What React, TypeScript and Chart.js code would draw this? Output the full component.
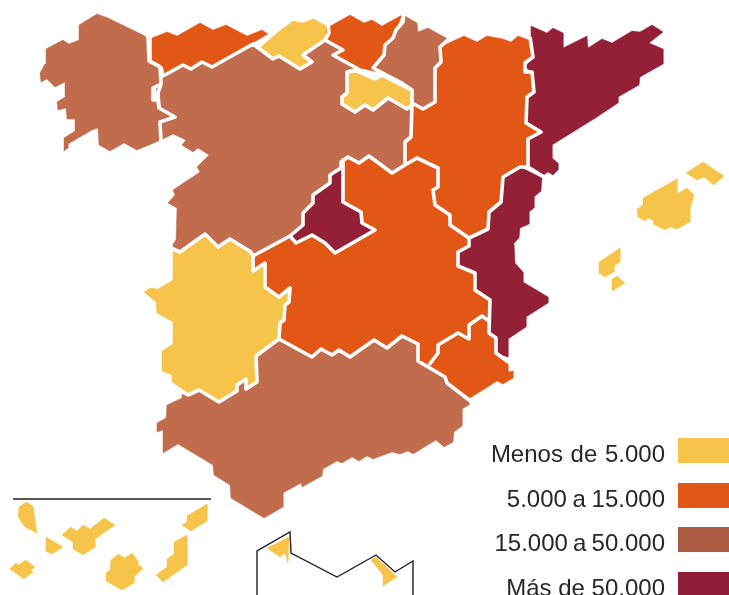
import React, { useEffect, useRef } from "react";
import { Chart, registerables } from "chart.js";

Chart.register(...registerables);

type Pt = [number, number];

const legendLabels = ["Menos de 5.000", "5.000 a 15.000", "15.000 a 50.000", "Más de 50.000"];
const legendColors = ["#F6C44A", "#E25716", "#AB5B42", "#8F1D38"];

const mapYellow = "#F6C44A";
const mapOrange = "#E25716";
const mapBrown = "#C06C4D";
const mapDark = "#932036";

const galicia: Pt[] = [[97,14],[108,18],[145,36],[148,37],[149,61],[160,67],[161,84],[153,88],[153,100],[158,100],[159,108],[175,117],[160,122],[161,140],[137,150],[124,143],[110,151],[99,145],[98,128],[92,130],[68,144],[68,148],[64,151],[64,138],[75,131],[75,119],[67,119],[66,108],[58,110],[57,102],[65,97],[65,82],[55,87],[47,79],[41,82],[40,73],[45,64],[46,49],[63,40],[69,44],[79,40],[79,25]];
const asturias: Pt[] = [[152,38],[167,32],[177,36],[200,23],[213,30],[226,25],[247,36],[262,30],[271,36],[253,45],[212,67],[202,62],[191,69],[183,65],[163,76],[161,65],[152,60]];
const cantabria: Pt[] = [[260,48],[277,33],[293,21],[302,23],[314,19],[328,27],[329,33],[325,40],[303,55],[312,62],[300,69],[279,56],[273,59]];
const castillaLeon: Pt[] = [[163,76],[183,65],[191,69],[202,62],[212,67],[253,44],[273,59],[279,56],[300,69],[312,62],[303,55],[325,40],[343,50],[333,55],[360,70],[347,72],[347,93],[342,97],[342,104],[355,112],[365,105],[373,110],[388,98],[407,109],[412,105],[411,137],[405,142],[405,165],[392,173],[369,156],[359,163],[348,157],[341,162],[341,168],[330,175],[330,183],[313,195],[313,203],[303,213],[303,225],[290,236],[253,256],[251,252],[230,239],[218,247],[205,234],[180,252],[173,248],[173,244],[176,240],[177,208],[168,203],[175,195],[173,190],[200,172],[197,167],[209,155],[198,148],[193,152],[182,145],[186,140],[173,134],[161,140],[160,122],[175,117],[159,108],[158,93],[156,89],[161,84]];
const paisVasco: Pt[] = [[327,28],[350,15],[364,23],[372,20],[382,26],[402,15],[396,30],[393,38],[385,45],[384,55],[373,68],[377,74],[360,70],[333,55],[343,50],[326,40]];
const navarra: Pt[] = [[405,16],[417,23],[418,32],[428,28],[448,39],[440,47],[441,62],[435,68],[435,102],[423,109],[412,103],[412,90],[400,82],[373,68],[384,55],[385,45],[393,38],[396,30],[403,22]];
const rioja: Pt[] = [[347,72],[355,70],[375,79],[382,75],[413,91],[412,105],[407,109],[388,98],[373,110],[365,105],[355,112],[342,104],[342,97],[347,93]];
const aragon: Pt[] = [[440,47],[464,36],[477,42],[487,36],[503,39],[511,42],[518,36],[531,41],[533,57],[525,63],[525,72],[532,72],[534,92],[527,97],[526,123],[541,132],[528,139],[528,167],[520,167],[503,177],[501,202],[489,212],[488,229],[469,238],[450,225],[450,215],[435,205],[433,190],[438,187],[438,168],[417,158],[405,165],[405,142],[411,137],[412,105],[423,109],[435,102],[435,68],[441,62]];
const cataluna: Pt[] = [[531,26],[547,33],[553,28],[563,33],[563,48],[587,36],[588,48],[602,39],[612,43],[632,31],[640,32],[652,25],[663,32],[649,43],[663,49],[663,64],[640,77],[639,85],[618,97],[618,103],[597,117],[552,145],[552,158],[558,163],[558,170],[553,175],[548,172],[542,176],[528,167],[528,139],[541,132],[526,123],[527,97],[534,92],[532,72],[525,67],[533,57],[531,41]];
const valencia: Pt[] = [[520,167],[542,178],[541,191],[534,197],[534,208],[529,212],[529,224],[520,228],[519,238],[514,243],[515,263],[523,272],[523,282],[548,297],[548,303],[526,317],[526,327],[508,339],[508,357],[496,353],[496,338],[489,333],[490,300],[475,290],[475,273],[458,266],[458,252],[469,246],[469,238],[488,229],[489,212],[501,202],[503,177]];
const murcia: Pt[] = [[482,316],[489,321],[489,333],[496,338],[496,353],[508,363],[508,372],[513,371],[513,378],[503,384],[497,381],[470,398],[447,383],[445,377],[418,361],[429,365],[438,353],[438,345],[458,333],[469,339],[469,325]];
const castillaMancha: Pt[] = [[405,165],[417,158],[438,168],[438,187],[433,190],[435,205],[450,215],[450,225],[469,238],[469,246],[458,252],[458,266],[475,273],[475,290],[490,300],[489,321],[482,316],[469,325],[469,339],[458,333],[438,345],[438,353],[429,365],[418,361],[418,344],[402,336],[387,348],[374,340],[350,357],[339,350],[332,355],[321,349],[312,357],[279,339],[280,323],[284,320],[285,305],[289,302],[290,288],[279,297],[265,287],[265,263],[253,271],[253,256],[290,236],[296,243],[312,235],[325,243],[335,253],[375,230],[362,223],[361,212],[343,202],[343,160],[348,157],[359,163],[369,156],[392,173]];
const madrid: Pt[] = [[343,165],[341,168],[330,175],[330,183],[313,195],[313,203],[303,213],[303,225],[290,236],[296,243],[312,235],[325,243],[335,253],[375,230],[362,223],[361,212],[343,202]];
const extremadura: Pt[] = [[173,251],[180,252],[205,234],[218,247],[230,239],[251,252],[253,256],[253,271],[265,263],[265,287],[279,297],[290,288],[289,302],[285,305],[284,320],[280,323],[279,339],[256,356],[257,382],[246,389],[246,379],[237,385],[237,391],[219,402],[199,390],[188,393],[172,382],[172,375],[162,371],[162,351],[173,344],[173,322],[157,313],[156,302],[144,292],[150,288],[158,289],[173,280]];
const andalucia: Pt[] = [[279,339],[312,357],[321,349],[332,355],[339,350],[350,357],[374,340],[387,348],[402,336],[418,344],[418,361],[445,377],[447,383],[470,401],[469,405],[462,409],[462,426],[454,432],[453,442],[444,447],[436,440],[413,454],[408,451],[400,454],[392,452],[373,459],[367,456],[359,461],[352,457],[342,463],[337,461],[323,469],[322,476],[302,487],[301,483],[283,493],[283,507],[264,518],[231,498],[230,485],[214,475],[213,465],[178,444],[163,453],[163,430],[157,432],[157,423],[166,418],[167,405],[182,398],[182,392],[188,395],[199,390],[219,402],[237,391],[237,385],[246,379],[246,389],[257,382],[256,356]];

const borderNorthWest: Pt[] = [[146,34],[148,37],[149,61],[160,67],[161,84],[153,88],[153,100],[158,100],[159,108],[175,117],[160,122],[161,142]];
const borderGaliciaInner: Pt[] = [[161,84],[158,93],[159,108]];
const borderCantabrian: Pt[] = [[161,67],[163,76],[183,65],[191,69],[202,62],[212,67],[253,44],[273,59],[279,56],[300,69],[312,62],[303,55],[325,40],[343,50],[333,55],[360,70],[377,74]];
const borderAsturiasTip: Pt[] = [[253,45],[275,32]];
const borderCantabriaEast: Pt[] = [[325,40],[329,33],[328,24]];
const borderVascoNavarra: Pt[] = [[404,11],[403,22],[396,30],[393,38],[385,45],[384,55],[373,68],[400,82],[412,90],[412,105]];
const borderRiojaNorth: Pt[] = [[347,72],[355,70],[375,79],[382,75],[413,91]];
const borderCastillaEastSouth: Pt[] = [[360,70],[347,72],[347,93],[342,97],[342,104],[355,112],[365,105],[373,110],[388,98],[407,109],[412,105],[411,137],[405,142],[405,165],[392,173],[369,156],[359,163],[348,157],[341,162],[341,168],[330,175],[330,183],[313,195],[313,203],[303,213],[303,225],[290,236],[253,256],[251,252],[230,239],[218,247],[205,234],[180,252],[171,248]];
const borderNavarraAragon: Pt[] = [[451,37],[440,47],[441,62],[435,68],[435,102],[423,109],[412,103]];
const borderAragonCataluna: Pt[] = [[530,37],[533,57],[525,63],[525,72],[532,72],[534,92],[527,97],[526,123],[541,132],[528,139],[528,167],[544,177]];
const borderValenciaWest: Pt[] = [[528,167],[520,167],[503,177],[501,202],[489,212],[488,229],[469,238],[469,246],[458,252],[458,266],[475,273],[475,290],[490,300],[489,333],[496,338],[496,353],[511,364]];
const borderAragonMancha: Pt[] = [[469,238],[450,225],[450,215],[435,205],[433,190],[438,187],[438,168],[417,158],[405,165]];
const borderManchaMurcia: Pt[] = [[489,321],[482,316],[469,325],[469,339],[458,333],[438,345],[438,353],[429,365]];
const borderAndalucia: Pt[] = [[473,403],[447,383],[445,377],[418,361],[418,344],[402,336],[387,348],[374,340],[350,357],[339,350],[332,355],[321,349],[312,357],[279,339],[256,356],[257,382],[246,389],[246,379],[237,385],[237,391],[219,402],[199,390],[188,395],[180,391]];
const borderManchaExtremadura: Pt[] = [[279,339],[280,323],[284,320],[285,305],[289,302],[290,288],[279,297],[265,287],[265,263],[253,271],[253,256]];
const borderMadrid: Pt[] = [[343,160],[343,202],[361,212],[362,223],[375,230],[335,253],[325,243],[312,235],[296,243],[290,236]];

const menorca: Pt[] = [[686,173],[703,162],[724,176],[714,185],[704,177],[697,180]];
const mallorca: Pt[] = [[643,198],[677,179],[677,194],[687,188],[694,195],[690,210],[690,222],[677,229],[670,227],[665,230],[653,224],[654,221],[648,218],[645,221],[638,217],[637,209],[643,205]];
const ibiza: Pt[] = [[599,262],[620,248],[620,262],[614,266],[614,272],[605,277],[599,273]];
const formentera: Pt[] = [[612,279],[617,276],[625,283],[612,291]];
const laPalma: Pt[] = [[26,502],[33,506],[37,533],[25,527],[18,517],[19,507]];
const gomera: Pt[] = [[46,537],[63,547],[52,554],[46,551]];
const tenerife: Pt[] = [[62,535],[71,527],[77,531],[83,525],[90,529],[104,518],[115,525],[95,539],[95,547],[83,555],[73,549],[73,542]];
const hierro: Pt[] = [[10,569],[16,563],[19,565],[26,560],[35,567],[31,570],[33,572],[24,579]];
const granCanaria: Pt[] = [[106,573],[110,570],[111,560],[118,554],[125,558],[132,553],[138,561],[138,565],[143,568],[134,577],[134,583],[122,590],[106,581]];
const fuerteventura: Pt[] = [[156,575],[167,567],[167,559],[174,554],[174,542],[187,535],[187,565],[163,582]];
const lanzarote: Pt[] = [[182,525],[187,522],[187,516],[207,504],[207,521],[191,531]];
const ceuta: Pt[] = [[267,548],[289,537],[288,563],[285,553],[280,557]];
const melilla: Pt[] = [[371,560],[376,557],[397,577],[383,586],[383,575]];

const canaryRule: Pt[] = [[13,499],[211,499]];
const ceutaMelillaFrame: Pt[] = [[257,595],[257,551],[290,532],[291,553],[337,577],[376,555],[395,572],[413,561],[413,595]];

const mainland: [Pt[], string][] = [
  [galicia, mapBrown], [castillaLeon, mapBrown], [navarra, mapBrown], [andalucia, mapBrown],
  [asturias, mapOrange], [paisVasco, mapOrange], [aragon, mapOrange], [castillaMancha, mapOrange], [murcia, mapOrange],
  [cantabria, mapYellow], [rioja, mapYellow], [extremadura, mapYellow],
  [cataluna, mapDark], [valencia, mapDark], [madrid, mapDark],
];
const innerBorders: Pt[][] = [
  borderNorthWest, borderGaliciaInner, borderCantabrian, borderAsturiasTip, borderCantabriaEast, borderVascoNavarra,
  borderRiojaNorth, borderCastillaEastSouth, borderNavarraAragon, borderAragonCataluna, borderValenciaWest,
  borderAragonMancha, borderManchaMurcia, borderAndalucia, borderManchaExtremadura, borderMadrid,
];
const islands: Pt[][] = [menorca, mallorca, ibiza, formentera, laPalma, gomera, tenerife, hierro, granCanaria, fuerteventura, lanzarote, ceuta, melilla];
const rules: Pt[][] = [canaryRule, ceutaMelillaFrame];

const toXY = (p: Pt[]) => p.map(([x, y]) => ({ x, y }));
const closed = (p: Pt[]) => toXY([...p, p[0]]);

const legendPlugin = {
  id: "mapLegend",
  afterDraw(chart: any) {
    const { ctx, scales } = chart;
    const sx = scales.x;
    const sy = scales.y;
    const tops = [438, 483, 527, 572];
    const baselines = [462, 507, 551, 596];
    const wordGaps = ["1px", "-1px", "-1.5px", "0px"];
    ctx.save();
    legendLabels.forEach((label, i) => {
      ctx.fillStyle = legendColors[i];
      ctx.fillRect(sx.getPixelForValue(678), sy.getPixelForValue(tops[i]), 51, 25);
      ctx.fillStyle = "#2A2624";
      ctx.font = '24px "Liberation Sans", Arial, sans-serif';
      ctx.wordSpacing = wordGaps[i];
      ctx.textAlign = "right";
      ctx.textBaseline = "alphabetic";
      ctx.fillText(label, sx.getPixelForValue(665), sy.getPixelForValue(baselines[i]));
    });
    ctx.restore();
  },
};

export default function App() {
  const ref = useRef<HTMLCanvasElement>(null);
  useEffect(() => {
    const base = { showLine: true, pointRadius: 0, pointHoverRadius: 0, tension: 0 };
    const datasets: any[] = [
      ...rules.map((p) => ({ ...base, data: toXY(p), borderColor: "#231F20", borderWidth: 1.4, fill: false, borderJoinStyle: "miter" })),
      ...innerBorders.map((p) => ({ ...base, data: toXY(p), borderColor: "#FFFFFF", borderWidth: 3.6, fill: false, borderJoinStyle: "round" })),
      ...mainland.map(([p, color]) => ({
        ...base, data: closed(p), backgroundColor: color, borderColor: color, borderWidth: 0.5, fill: "shape", borderJoinStyle: "miter",
      })),
      ...islands.map((p) => ({ ...base, data: closed(p), backgroundColor: mapYellow, borderColor: mapYellow, borderWidth: 0.5, fill: "shape" })),
    ];
    const chart = new Chart(ref.current!, {
      type: "scatter",
      data: { datasets },
      plugins: [legendPlugin],
      options: {
        animation: false,
        responsive: false,
        layout: { padding: 0 },
        plugins: { legend: { display: false }, tooltip: { enabled: false }, filler: { drawTime: "beforeDatasetsDraw" } },
        scales: {
          x: { type: "linear", display: false, min: 0, max: 729 },
          y: { type: "linear", display: false, min: 0, max: 595, reverse: true },
        },
      },
    } as any);
    return () => chart.destroy();
  }, []);
  return (
    <canvas ref={ref} width={729} height={595} style={{ position: "fixed", left: 0, top: 0, width: 729, height: 595, background: "#fff" }} />
  );
}
